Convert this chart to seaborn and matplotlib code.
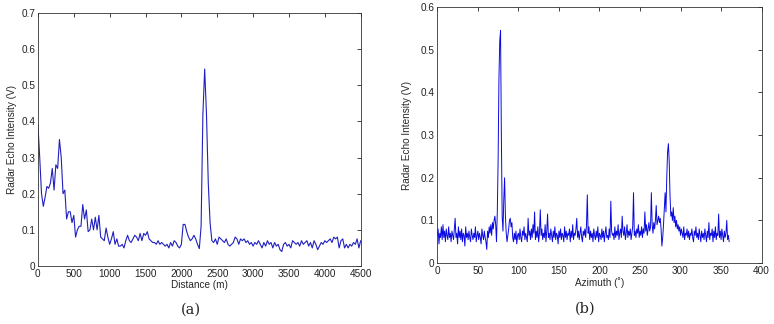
import numpy as np
import matplotlib
matplotlib.use('Agg')
import matplotlib.pyplot as plt
import seaborn as sns

# (a) echo intensity along range, sampled every 25 m
distance = np.arange(0, 4501, 25)
intensity_range = [
    0.390, 0.300, 0.200, 0.165, 0.190, 0.220, 0.215, 0.230, 0.270, 0.210,
    0.280, 0.270, 0.350, 0.300, 0.200, 0.210, 0.130, 0.150, 0.150, 0.120,
    0.140, 0.080, 0.100, 0.110, 0.110, 0.170, 0.130, 0.155, 0.095, 0.100,
    0.130, 0.100, 0.135, 0.100, 0.140, 0.080, 0.075, 0.070, 0.105, 0.080,
    0.060, 0.075, 0.095, 0.060, 0.075, 0.055, 0.055, 0.060, 0.050, 0.070,
    0.085, 0.070, 0.065, 0.075, 0.085, 0.080, 0.070, 0.090, 0.070, 0.090,
    0.085, 0.095, 0.075, 0.070, 0.065, 0.065, 0.060, 0.070, 0.060, 0.065,
    0.060, 0.055, 0.060, 0.050, 0.065, 0.055, 0.070, 0.065, 0.055, 0.050,
    0.060, 0.115, 0.115, 0.095, 0.080, 0.070, 0.075, 0.085, 0.075, 0.060,
    0.048, 0.110, 0.420, 0.545, 0.420, 0.230, 0.120, 0.070, 0.065, 0.075,
    0.060, 0.080, 0.075, 0.070, 0.065, 0.075, 0.060, 0.055, 0.060, 0.065,
    0.080, 0.075, 0.060, 0.075, 0.070, 0.075, 0.065, 0.070, 0.060, 0.065,
    0.055, 0.065, 0.060, 0.070, 0.060, 0.050, 0.065, 0.055, 0.070, 0.060,
    0.065, 0.050, 0.065, 0.055, 0.060, 0.045, 0.040, 0.060, 0.065, 0.055,
    0.060, 0.050, 0.070, 0.065, 0.060, 0.065, 0.055, 0.070, 0.060, 0.065,
    0.070, 0.055, 0.065, 0.050, 0.070, 0.060, 0.045, 0.055, 0.065, 0.060,
    0.070, 0.065, 0.070, 0.075, 0.065, 0.080, 0.075, 0.080, 0.050, 0.070,
    0.075, 0.050, 0.060, 0.050, 0.060, 0.055, 0.065, 0.060, 0.075, 0.050,
    0.070,
]

# (b) echo intensity over one revolution, every 1 degree
azimuth = np.arange(0, 361, 1)
intensity_azi = [
    0.065, 0.080, 0.045, 0.070, 0.060, 0.085, 0.055, 0.090, 0.060, 0.075,
    0.050, 0.080, 0.065, 0.055, 0.085, 0.060, 0.070, 0.050, 0.075, 0.065,
    0.055, 0.080, 0.105, 0.060, 0.070, 0.045, 0.085, 0.060, 0.075, 0.055,
    0.080, 0.050, 0.070, 0.065, 0.040, 0.085, 0.060, 0.070, 0.055, 0.075,
    0.060, 0.050, 0.080, 0.065, 0.055, 0.070, 0.060, 0.085, 0.050, 0.065,
    0.075, 0.055, 0.070, 0.060, 0.045, 0.080, 0.065, 0.055, 0.075, 0.060,
    0.050, 0.032, 0.075, 0.060, 0.085, 0.070, 0.090, 0.065, 0.095, 0.080,
    0.100, 0.110, 0.090, 0.050, 0.120, 0.240, 0.430, 0.520, 0.545, 0.300,
    0.110, 0.075, 0.150, 0.200, 0.110, 0.070, 0.050, 0.065, 0.080, 0.100,
    0.105, 0.085, 0.095, 0.060, 0.050, 0.070, 0.055, 0.075, 0.045, 0.065,
    0.070, 0.055, 0.080, 0.060, 0.050, 0.075, 0.065, 0.085, 0.055, 0.070,
    0.060, 0.050, 0.105, 0.065, 0.075, 0.055, 0.080, 0.060, 0.090, 0.070,
    0.120, 0.055, 0.075, 0.060, 0.085, 0.050, 0.070, 0.125, 0.065, 0.080,
    0.055, 0.070, 0.060, 0.090, 0.050, 0.075, 0.115, 0.060, 0.070, 0.055,
    0.080, 0.065, 0.050, 0.075, 0.060, 0.085, 0.055, 0.070, 0.065, 0.045,
    0.075, 0.060, 0.080, 0.055, 0.070, 0.065, 0.050, 0.085, 0.060, 0.075,
    0.055, 0.070, 0.065, 0.080, 0.050, 0.075, 0.060, 0.090, 0.055, 0.070,
    0.065, 0.080, 0.105, 0.060, 0.075, 0.055, 0.070, 0.085, 0.060, 0.050,
    0.075, 0.065, 0.080, 0.060, 0.090, 0.160, 0.070, 0.085, 0.055, 0.075,
    0.060, 0.070, 0.050, 0.080, 0.065, 0.055, 0.075, 0.060, 0.085, 0.050,
    0.070, 0.065, 0.055, 0.080, 0.060, 0.075, 0.050, 0.070, 0.085, 0.060,
    0.065, 0.055, 0.080, 0.060, 0.145, 0.075, 0.065, 0.070, 0.055, 0.085,
    0.060, 0.075, 0.065, 0.090, 0.055, 0.070, 0.080, 0.060, 0.110, 0.075,
    0.065, 0.085, 0.055, 0.070, 0.090, 0.060, 0.075, 0.065, 0.080, 0.055,
    0.070, 0.085, 0.165, 0.065, 0.075, 0.060, 0.080, 0.070, 0.090, 0.060,
    0.075, 0.065, 0.085, 0.060, 0.080, 0.070, 0.120, 0.075, 0.090, 0.065,
    0.080, 0.095, 0.075, 0.085, 0.165, 0.090, 0.070, 0.095, 0.080, 0.100,
    0.135, 0.090, 0.100, 0.110, 0.095, 0.105, 0.080, 0.040, 0.060, 0.090,
    0.130, 0.165, 0.120, 0.200, 0.260, 0.280, 0.240, 0.160, 0.110, 0.120,
    0.100, 0.130, 0.095, 0.110, 0.085, 0.100, 0.080, 0.090, 0.075, 0.085,
    0.065, 0.080, 0.070, 0.060, 0.085, 0.055, 0.070, 0.065, 0.080, 0.060,
    0.075, 0.055, 0.070, 0.065, 0.080, 0.060, 0.050, 0.075, 0.065, 0.085,
    0.060, 0.070, 0.055, 0.080, 0.065, 0.050, 0.075, 0.060, 0.070, 0.055,
    0.080, 0.065, 0.050, 0.075, 0.060, 0.095, 0.055, 0.070, 0.065, 0.080,
    0.050, 0.075, 0.060, 0.085, 0.055, 0.070, 0.065, 0.115, 0.060, 0.075,
    0.055, 0.080, 0.065, 0.050, 0.075, 0.060, 0.070, 0.100, 0.055, 0.065,
    0.050,
]

sns.set_style('white')
plt.rcParams['font.family'] = ['Liberation Sans', 'DejaVu Sans']
plt.rcParams['font.size'] = 7.2

fig = plt.figure(figsize=(7.74, 3.24), dpi=100)
ax1 = fig.add_axes([0.049, 0.179, 0.417, 0.781])
ax2 = fig.add_axes([0.565, 0.188, 0.419, 0.790])

sns.lineplot(x=distance, y=intensity_range, ax=ax1, color='#2020c0', linewidth=0.8)
ax1.set_xlim(0, 4500)
ax1.set_ylim(0, 0.7)
ax1.set_xticks(np.arange(0, 4501, 500))
ax1.set_yticks(np.arange(0, 0.71, 0.1))
ax1.set_yticklabels(['0', '0.1', '0.2', '0.3', '0.4', '0.5', '0.6', '0.7'])
ax1.set_xlabel('Distance (m)', labelpad=1)
ax1.set_ylabel('Radar Echo Intensity (V)', labelpad=3)

sns.lineplot(x=azimuth, y=intensity_azi, ax=ax2, color='#0a0ae0', linewidth=0.7)
ax2.set_xlim(0, 400)
ax2.set_ylim(0, 0.6)
ax2.set_xticks(np.arange(0, 401, 50))
ax2.set_yticks(np.arange(0, 0.61, 0.1))
ax2.set_yticklabels(['0', '0.1', '0.2', '0.3', '0.4', '0.5', '0.6'])
ax2.set_xlabel('Azimuth (\u02da)', labelpad=1)
ax2.set_ylabel('Radar Echo Intensity (V)', labelpad=6)

for ax in (ax1, ax2):
    ax.tick_params(direction='in', length=3, width=0.6, top=True, right=True,
                   labelsize=7.2, pad=2, colors='#222222')
    for sp in ax.spines.values():
        sp.set_linewidth(0.6)
        sp.set_color('#333333')

fig.text(0.234, 0.033, '(a)', fontsize=10.5, family='DejaVu Serif')
fig.text(0.743, 0.036, '(b)', fontsize=10.5, family='DejaVu Serif')

plt.savefig('out.png', dpi=100)
